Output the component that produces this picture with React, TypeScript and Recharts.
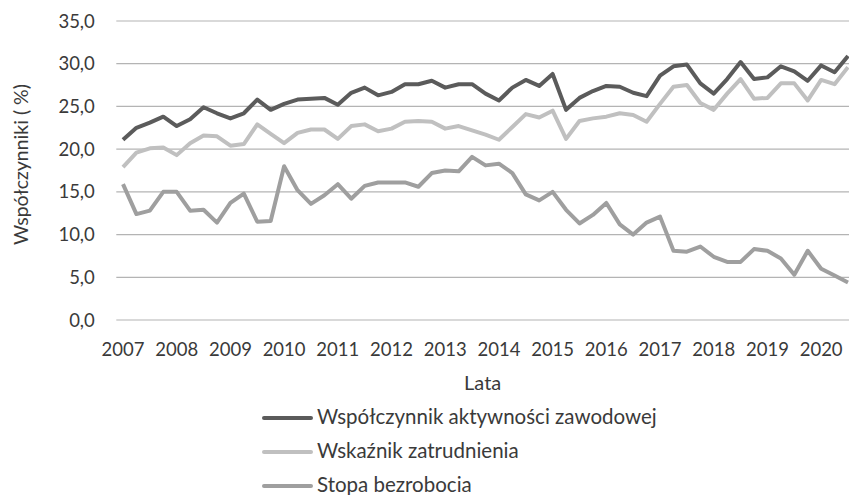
import { LineChart, Line, XAxis, YAxis, CartesianGrid } from "recharts";

const years = ["2007", "2008", "2009", "2010", "2011", "2012", "2013", "2014", "2015", "2016", "2017", "2018", "2019", "2020"];
const quarters = ["I", "II", "III", "IV"];
// kwartały 2007 I – 2020 III
const categories = years.flatMap((y) => quarters.map((q) => `${y} ${q}`)).slice(0, 55);

const aktywnosc = [
  21.1, 22.5, 23.1, 23.8, 22.7, 23.5, 24.9, 24.2, 23.6, 24.2,
  25.8, 24.6, 25.3, 25.8, 25.9, 26.0, 25.2, 26.6, 27.2, 26.3,
  26.7, 27.6, 27.6, 28.0, 27.2, 27.6, 27.6, 26.5, 25.7, 27.2,
  28.1, 27.4, 28.8, 24.6, 26.0, 26.8, 27.4, 27.3, 26.6, 26.2,
  28.6, 29.7, 29.9, 27.7, 26.5, 28.2, 30.2, 28.2, 28.4, 29.7,
  29.1, 28.0, 29.8, 29.0, 30.9,
];

const zatrudnienie = [
  17.9, 19.6, 20.1, 20.2, 19.3, 20.7, 21.6, 21.5, 20.4, 20.6,
  22.9, 21.8, 20.7, 21.9, 22.3, 22.3, 21.2, 22.7, 22.9, 22.1,
  22.4, 23.2, 23.3, 23.2, 22.4, 22.7, 22.2, 21.7, 21.1, 22.6,
  24.1, 23.7, 24.5, 21.2, 23.3, 23.6, 23.8, 24.2, 24.0, 23.2,
  25.3, 27.3, 27.5, 25.4, 24.6, 26.5, 28.2, 25.9, 26.0, 27.7,
  27.7, 25.7, 28.1, 27.6, 29.6,
];

const bezrobocie = [
  15.9, 12.4, 12.8, 15.0, 15.0, 12.8, 12.9, 11.4, 13.7, 14.8,
  11.5, 11.6, 18.0, 15.2, 13.6, 14.6, 15.9, 14.2, 15.7, 16.1,
  16.1, 16.1, 15.6, 17.2, 17.5, 17.4, 19.1, 18.1, 18.3, 17.2,
  14.7, 14.0, 15.0, 12.9, 11.3, 12.3, 13.7, 11.2, 10.0, 11.4,
  12.1, 8.1, 8.0, 8.6, 7.4, 6.8, 6.8, 8.3, 8.1, 7.2,
  5.3, 8.1, 6.0, 5.2, 4.4,
];

const yTicks = [0, 5, 10, 15, 20, 25, 30, 35];

const series = [
  { key: "aktywnosc", name: "Współczynnik aktywności zawodowej", color: "#5b5b5b" },
  { key: "zatrudnienie", name: "Wskaźnik zatrudnienia", color: "#c0c0c0" },
  { key: "bezrobocie", name: "Stopa bezrobocia", color: "#9f9f9f" },
];

const data = categories.map((q, i) => ({
  q,
  aktywnosc: aktywnosc[i],
  zatrudnienie: zatrudnienie[i],
  bezrobocie: bezrobocie[i],
}));

const FONT = "Lato, 'Open Sans', sans-serif";
const FS_TICK = 18.5;
const FS = 20.5;
const TEXT = "#3a3a3a";

function XTick({ x, y, payload }: any) {
  return (
    <text x={x} y={y + 35.5} textAnchor="middle" fill={TEXT} fontSize={FS_TICK} fontFamily={FONT}>
      {String(payload.value).slice(0, 4)}
    </text>
  );
}

function YTick({ x, y, payload }: any) {
  return (
    <text x={x - 21.5} y={y + 6.6} textAnchor="end" fill={TEXT} fontSize={FS_TICK} fontFamily={FONT}>
      {Number(payload.value).toFixed(1).replace(".", ",")}
    </text>
  );
}

export default function App() {
  return (
    <div style={{ position: "absolute", left: 0, top: 0, width: 849, height: 495, background: "#fff", overflow: "hidden" }}>
      <LineChart width={849} height={495} data={data} margin={{ top: 21, right: 0, bottom: 135, left: 0 }}>
        <CartesianGrid vertical={false} stroke="#b4b4b4" strokeWidth={1.2} />
        <XAxis
          dataKey="q"
          scale="point"
          padding={{ left: 6.7, right: 1 }}
          interval={3}
          tickLine={false}
          axisLine={false}
          tickSize={0}
          tickMargin={0}
          height={40}
          tick={<XTick />}
          label={({ viewBox }: any) => (
            <text
              x={viewBox.x + viewBox.width / 2}
              y={390}
              textAnchor="middle"
              fill={TEXT}
              fontSize={20}
              fontFamily={FONT}
            >
              Lata
            </text>
          )}
        />
        <YAxis
          domain={[0, 35]}
          ticks={yTicks}
          width={116.3}
          tickLine={false}
          axisLine={false}
          tickSize={0}
          tickMargin={0}
          tick={<YTick />}
          label={({ viewBox }: any) => (
            <text
              transform={`translate(${viewBox.x + 28}, ${viewBox.y + viewBox.height / 2 - 6}) rotate(-90)`}
              textAnchor="middle"
              fill={TEXT}
              fontSize={19.5}
              fontFamily={FONT}
            >
              Współczynniki ( %)
            </text>
          )}
        />
        {series.map((s) => (
          <Line
            key={s.key}
            type="linear"
            dataKey={s.key}
            name={s.name}
            stroke={s.color}
            strokeWidth={4}
            strokeLinejoin="round"
            dot={false}
            activeDot={false}
            isAnimationActive={false}
          />
        ))}
      </LineChart>

      {/* legenda */}
      <div style={{ position: "absolute", left: 262, top: 401, fontFamily: FONT, fontSize: FS, color: TEXT, lineHeight: 1 }}>
        {series.map((s) => (
          <div key={s.key} style={{ display: "flex", alignItems: "center", height: 34 }}>
            <span
              style={{
                display: "inline-block",
                width: 51,
                height: 4,
                borderRadius: 2,
                background: s.color,
                marginRight: 4,
              }}
            />
            <span style={{ position: "relative", top: -2 }}>{s.name}</span>
          </div>
        ))}
      </div>
    </div>
  );
}
